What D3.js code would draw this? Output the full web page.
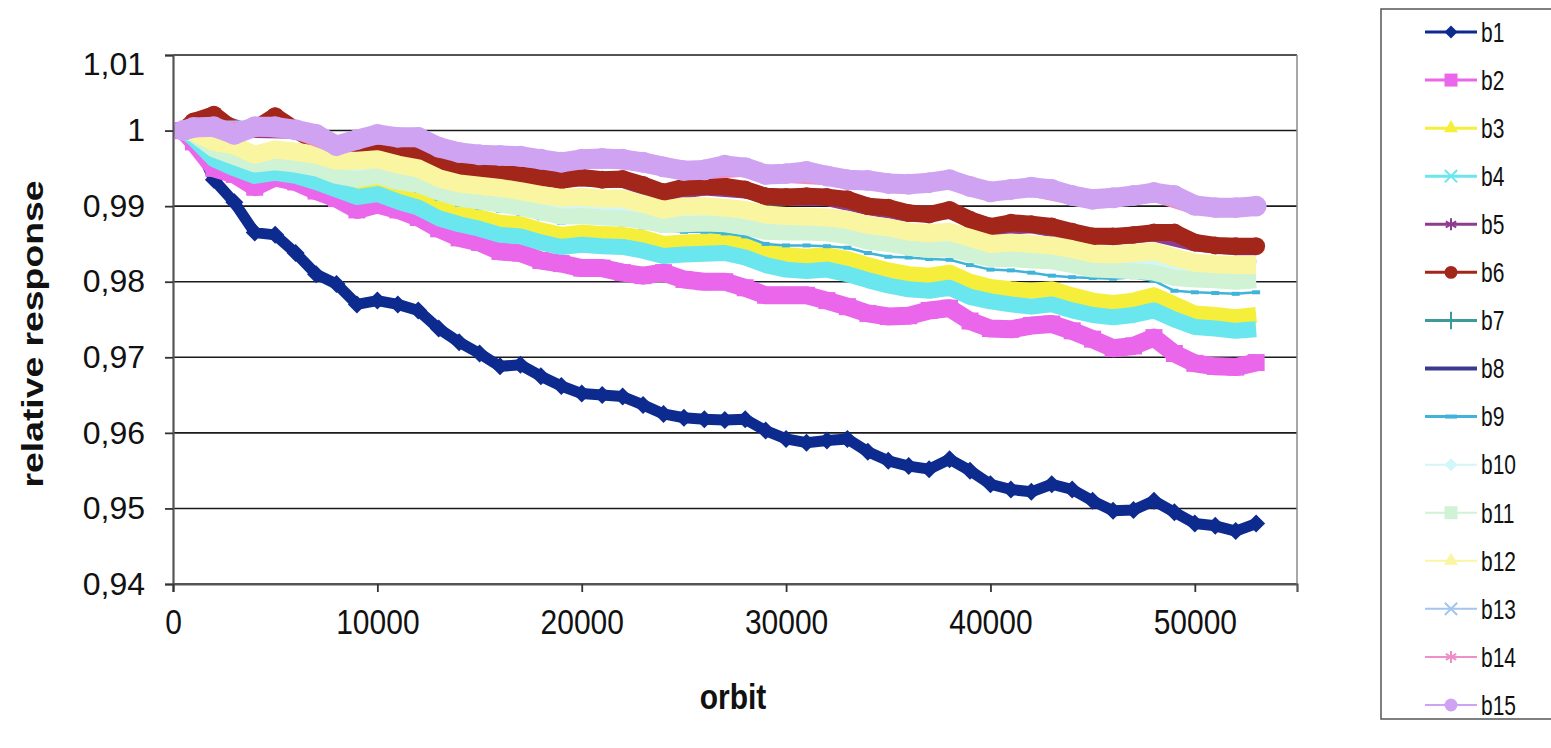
<!DOCTYPE html>
<html>
<head>
<meta charset="utf-8">
<script src="https://d3js.org/d3.v7.min.js"></script>
<style>
  body { margin: 0; background: #fff; }
  svg { display: block; }
  text { font-family: "Liberation Sans", Arial, sans-serif; fill: #111; }
</style>
</head>
<body>
<svg id="chart" width="1551" height="748"></svg>
<script>
// ---- data ----
// orbit numbers for the densely read series
const orbit = [500, 1000, 2000, 3000, 4000, 5000, 6000, 7000, 8000, 9000,
  10000, 11000, 12000, 13000, 14000, 15000, 16000, 17000, 18000, 19000,
  20000, 21000, 22000, 23000, 24000, 25000, 26000, 27000, 28000, 29000,
  30000, 31000, 32000, 33000, 34000, 35000, 36000, 37000, 38000, 39000,
  40000, 41000, 42000, 43000, 44000, 45000, 46000, 47000, 48000, 49000,
  50000, 51000, 52000, 53000];
// orbit numbers for the series that are mostly hidden under others
const orbitCoarse = [500, 2000, 4000, 6000, 8000, 10000, 12000, 14000, 16000, 18000,
  20000, 22000, 24000, 26000, 28000, 30000, 32000, 34000, 36000, 38000,
  40000, 42000, 44000, 46000, 48000, 50000, 52000, 53000];

const b1 = [1.0, 0.9995, 0.9935, 0.9905, 0.9865, 0.9862, 0.9838, 0.981, 0.9797, 0.977,
  0.9775, 0.977, 0.9762, 0.9738, 0.972, 0.9705, 0.9688, 0.969, 0.9675, 0.9662,
  0.9652, 0.965, 0.9648, 0.9637, 0.9625, 0.962, 0.9618, 0.9617, 0.9618, 0.9603,
  0.9592, 0.9587, 0.959, 0.9592, 0.9575, 0.9563, 0.9556, 0.9552, 0.9565, 0.955,
  0.9532, 0.9525, 0.9522, 0.9532, 0.9525, 0.951, 0.9497, 0.9498, 0.951, 0.9495,
  0.948, 0.9477, 0.947, 0.948];
const b2 = [1.0, 0.9985, 0.995, 0.9942, 0.9925, 0.9938, 0.9932, 0.992, 0.991, 0.9895,
  0.9902, 0.9895, 0.9885, 0.987, 0.9858, 0.9852, 0.984, 0.9838, 0.9828, 0.9824,
  0.9818, 0.9818, 0.9812, 0.9808, 0.9812, 0.9803, 0.98, 0.98, 0.9792, 0.9782,
  0.9782, 0.9782, 0.9775, 0.9767, 0.9758, 0.9754, 0.9755, 0.9762, 0.9765, 0.9748,
  0.9738, 0.9737, 0.9742, 0.9744, 0.9735, 0.9724, 0.9712, 0.9715, 0.9726, 0.9705,
  0.9692, 0.9688, 0.9687, 0.9693];
const b3 = [1.0, 0.9993, 0.997, 0.996, 0.995, 0.9952, 0.9948, 0.994, 0.9932, 0.9925,
  0.993, 0.9918, 0.9912, 0.9898, 0.989, 0.9885, 0.9878, 0.9876, 0.9868, 0.9862,
  0.9865, 0.9863, 0.9862, 0.9858, 0.985, 0.9852, 0.9853, 0.9855, 0.985, 0.984,
  0.9835, 0.9833, 0.9835, 0.983, 0.9822, 0.9815, 0.981, 0.9808, 0.9812, 0.98,
  0.9793, 0.979, 0.9788, 0.979, 0.9782, 0.9775, 0.9772, 0.9775, 0.9782, 0.977,
  0.9758, 0.9756, 0.9753, 0.9756];
const b4 = [1.0, 0.999, 0.9962, 0.995, 0.994, 0.9944, 0.994, 0.9932, 0.9922, 0.9912,
  0.9916, 0.9906, 0.9898, 0.9884, 0.9876, 0.987, 0.9862, 0.986, 0.9852, 0.9846,
  0.9849, 0.9847, 0.9846, 0.9841, 0.9834, 0.9836, 0.9837, 0.9838, 0.9832, 0.9822,
  0.9816, 0.9814, 0.9816, 0.981, 0.9802, 0.9795, 0.979, 0.9788, 0.9792, 0.978,
  0.9774, 0.977, 0.9767, 0.977, 0.9762, 0.9756, 0.9753, 0.9756, 0.9762, 0.975,
  0.974, 0.9738, 0.9735, 0.9737];
const b5 = [1.0, 1.0017, 0.9998, 0.9997, 0.9971, 0.9976, 0.9964, 0.9944, 0.9939, 0.9934,
  0.9934, 0.9932, 0.9914, 0.9922, 0.9918, 0.9908, 0.9908, 0.9896, 0.9887, 0.9891,
  0.9869, 0.9872, 0.9862, 0.9856, 0.9861, 0.9848, 0.9843, 0.9843];
const b6 = [1.0, 1.0012, 1.0021, 1.0, 1.0002, 1.0019, 1.0001, 0.9985, 0.9975, 0.9978,
  0.998, 0.9974, 0.9968, 0.9955, 0.9948, 0.9945, 0.9943, 0.9942, 0.9938, 0.9934,
  0.9938, 0.9935, 0.9936, 0.9928, 0.9918, 0.9925, 0.9926, 0.9926, 0.9922, 0.9913,
  0.9912, 0.9913, 0.9912, 0.9909, 0.99, 0.9898, 0.9891, 0.9889, 0.9895, 0.9882,
  0.9873, 0.9878, 0.9876, 0.9873, 0.9866, 0.986, 0.986, 0.9862, 0.9865, 0.9865,
  0.9852, 0.9848, 0.9847, 0.9847];
const b7 = [1.0, 0.9991, 0.9974, 0.9978, 0.9966, 0.9968, 0.9956, 0.9936, 0.993, 0.9921,
  0.9918, 0.9916, 0.9901, 0.9906, 0.9901, 0.9893, 0.9891, 0.9881, 0.9872, 0.9872,
  0.9856, 0.9856, 0.9849, 0.9842, 0.9846, 0.9831, 0.9828, 0.9828];
const b8 = [1.0, 0.9989, 0.9972, 0.9976, 0.9964, 0.9966, 0.9954, 0.9934, 0.9928, 0.9919,
  0.9916, 0.9914, 0.9899, 0.9904, 0.9899, 0.9891, 0.9889, 0.9879, 0.987, 0.987,
  0.9854, 0.9854, 0.9847, 0.984, 0.9844, 0.9829, 0.9826, 0.9826];
const b9 = [1.0, 0.9993, 0.997, 0.996, 0.995, 0.9952, 0.995, 0.9944, 0.9934, 0.9928,
  0.9932, 0.9925, 0.992, 0.991, 0.9902, 0.9898, 0.9894, 0.989, 0.9884, 0.9878,
  0.988, 0.9878, 0.9876, 0.9872, 0.9868, 0.9866, 0.9866, 0.9864, 0.986, 0.985,
  0.9848, 0.9848, 0.9847, 0.9845, 0.9838, 0.9833, 0.9832, 0.983, 0.9829, 0.9822,
  0.9816, 0.9815, 0.9812, 0.9808, 0.9806, 0.9805, 0.9804, 0.9806, 0.9801, 0.9788,
  0.9786, 0.9785, 0.9784, 0.9786];
const b10 = [1.0, 0.998, 0.9962, 0.9964, 0.995, 0.9951, 0.9939, 0.992, 0.9913, 0.9904,
  0.99, 0.9897, 0.9885, 0.9889, 0.9884, 0.9876, 0.9875, 0.9864, 0.9856, 0.9855,
  0.984, 0.9839, 0.9833, 0.9826, 0.9826, 0.9814, 0.9811, 0.9812];
const b11 = [1.0, 0.9995, 0.9975, 0.9965, 0.9955, 0.9958, 0.9955, 0.995, 0.994, 0.9935,
  0.994, 0.9932, 0.9928, 0.9918, 0.991, 0.9906, 0.9902, 0.9898, 0.9892, 0.9886,
  0.9887, 0.9885, 0.9884, 0.988, 0.9875, 0.9876, 0.9877, 0.9876, 0.9872, 0.9866,
  0.9865, 0.9865, 0.9864, 0.986, 0.9853, 0.985, 0.9845, 0.9842, 0.9843, 0.9836,
  0.983, 0.983, 0.9828, 0.9827, 0.9822, 0.9816, 0.9815, 0.9814, 0.9812, 0.9805,
  0.9803, 0.9802, 0.98, 0.9802];
const b12 = [1.0, 0.9998, 0.9985, 0.998, 0.9968, 0.9975, 0.9972, 0.9968, 0.996, 0.996,
  0.9962, 0.9955, 0.995, 0.9937, 0.993, 0.9927, 0.9924, 0.992, 0.9915, 0.9911,
  0.9912, 0.991, 0.991, 0.9903, 0.9895, 0.99, 0.99, 0.9898, 0.9895, 0.9889,
  0.9887, 0.9886, 0.9885, 0.9882, 0.9875, 0.9872, 0.9866, 0.9864, 0.9866, 0.9858,
  0.985, 0.9852, 0.985, 0.9848, 0.9843, 0.9837, 0.9836, 0.9838, 0.984, 0.9832,
  0.9825, 0.9823, 0.9822, 0.9822];
const b13 = [1.0, 1.0004, 1.0004, 1.0, 0.9979, 0.9994, 0.999, 0.997, 0.9966, 0.9961,
  0.9961, 0.9961, 0.9951, 0.9947, 0.995, 0.9942, 0.9939, 0.9933, 0.9928, 0.9934,
  0.9918, 0.9924, 0.9913, 0.991, 0.9917, 0.99, 0.9897, 0.9899];
const b14 = [1.0, 1.0003, 1.0002, 0.9998, 0.9978, 0.9992, 0.9988, 0.9968, 0.9964, 0.9959,
  0.9959, 0.9959, 0.9949, 0.9945, 0.9948, 0.994, 0.9937, 0.9931, 0.9926, 0.9932,
  0.9916, 0.9922, 0.9911, 0.9908, 0.9915, 0.9898, 0.9895, 0.9897];
const b15 = [1.0, 1.0004, 1.0005, 0.9995, 1.0005, 1.0005, 1.0001, 0.9995, 0.998, 0.9988,
  0.9995, 0.9991, 0.9991, 0.9978, 0.9971, 0.9968, 0.9967, 0.9966, 0.9962, 0.9958,
  0.9962, 0.9963, 0.9962, 0.9958, 0.9952, 0.9947, 0.9948, 0.9954, 0.9951, 0.9942,
  0.9943, 0.9946, 0.994, 0.9935, 0.9934, 0.993, 0.9929, 0.9931, 0.9935, 0.9926,
  0.9919, 0.9922, 0.9925, 0.9922, 0.9914, 0.9909, 0.9911, 0.9914, 0.9918, 0.9914,
  0.9901, 0.9898, 0.9898, 0.99];

const seriesNames = ['b1', 'b2', 'b3', 'b4', 'b5', 'b6', 'b7', 'b8', 'b9', 'b10',
  'b11', 'b12', 'b13', 'b14', 'b15'];
const seriesValues = [b1, b2, b3, b4, b5, b6, b7, b8, b9, b10, b11, b12, b13, b14, b15];
const yTicks = [0.94, 0.95, 0.96, 0.97, 0.98, 0.99, 1.0, 1.01];
const xTicks = [0, 10000, 20000, 30000, 40000, 50000];

// ---- look of each series (Excel 2003 style) ----
// band = width of the dense marker band in the plot, msize = marker drawn at each point
const look = {
  b1:  { color: '#0d2a8e', marker: 'diamond',  band: 11, msize: 18, line: 3 },
  b2:  { color: '#ea66ea', marker: 'square',   band: 18, msize: 17, line: 3 },
  b3:  { color: '#f5ef3c', marker: 'triangle', band: 16, msize: 0,  line: 3 },
  b4:  { color: '#6ae6ee', marker: 'times',    band: 16, msize: 0,  line: 3 },
  b5:  { color: '#8e3d8e', marker: 'asterisk', band: 12, msize: 0,  line: 3 },
  b6:  { color: '#a3261a', marker: 'circle',   band: 17, msize: 18, line: 3 },
  b7:  { color: '#3d9a9a', marker: 'plus',     band: 2.5, msize: 0, line: 3 },
  b8:  { color: '#3a3a8f', marker: 'dash',     band: 2.5, msize: 0, line: 4 },
  b9:  { color: '#3fb4d8', marker: 'longdash', band: 2.5, msize: 8, line: 3 },
  b10: { color: '#d3f6f8', marker: 'diamond',  band: 12, msize: 0,  line: 2 },
  b11: { color: '#cff3d4', marker: 'square',   band: 16, msize: 0,  line: 2 },
  b12: { color: '#f9f5a0', marker: 'triangle', band: 18, msize: 0,  line: 2 },
  b13: { color: '#a3c6ee', marker: 'times',    band: 14, msize: 0,  line: 2 },
  b14: { color: '#ee90c8', marker: 'asterisk', band: 14, msize: 0,  line: 2 },
  b15: { color: '#cfa3f2', marker: 'circle',   band: 20, msize: 21, line: 2 }
};
const coarse = ['b5', 'b7', 'b8', 'b10', 'b13', 'b14'];

const W = 1551, H = 748;
const svg = d3.select('#chart');
svg.append('rect').attr('width', W).attr('height', H).attr('fill', '#fff');

const x = d3.scaleLinear().domain([0, 55000]).range([173, 1297]);
const y = d3.scaleLinear().domain([0.94, 1.01]).range([584, 55]);

// gridlines
svg.append('g').selectAll('line')
  .data(yTicks)
  .enter().append('line')
  .attr('x1', x(0)).attr('x2', x(55000))
  .attr('y1', d => y(d)).attr('y2', d => y(d))
  .attr('stroke', '#1a1a1a').attr('stroke-width', 1.6);
// plot area right border
svg.append('line')
  .attr('x1', x(55000)).attr('x2', x(55000))
  .attr('y1', y(1.01)).attr('y2', y(0.94))
  .attr('stroke', '#8a8a8a').attr('stroke-width', 1.5);

// marker path generator
function markerPath(type, s) {
  const sym = d3.symbol();
  switch (type) {
    case 'diamond':  return sym.type(d3.symbolSquare).size(s * s / 2)();
    case 'square':   return sym.type(d3.symbolSquare).size(s * s)();
    case 'triangle': return sym.type(d3.symbolTriangle).size(s * s * 0.5)();
    case 'times':    return sym.type(d3.symbolTimes).size(s * s * 0.6)();
    case 'asterisk': return sym.type(d3.symbolAsterisk).size(s * s * 0.6)();
    case 'circle':   return sym.type(d3.symbolCircle).size(s * s * 0.78)();
    case 'plus':     return sym.type(d3.symbolPlus).size(s * s * 0.6)();
    case 'dash':     return 'M' + (-s / 2) + ',-1.5h' + s + 'v3h' + (-s) + 'Z';
    case 'longdash': return 'M' + (-s / 2) + ',-2h' + s + 'v4h' + (-s) + 'Z';
  }
}
const strokeMarkers = ['times', 'asterisk', 'plus'];

// series, drawn in order so b15 ends on top
const plot = svg.append('g');
seriesNames.forEach((name, i) => {
  const st = look[name];
  const xs = coarse.includes(name) ? orbitCoarse : orbit;
  const pts = seriesValues[i].map((v, j) => [xs[j], v]);
  const line = d3.line().x(d => x(d[0])).y(d => y(d[1]));
  plot.append('path')
    .attr('d', line(pts))
    .attr('fill', 'none')
    .attr('stroke', st.color)
    .attr('stroke-width', st.band)
    .attr('stroke-linejoin', 'round')
    .attr('stroke-linecap', 'butt');
  if (st.msize > 0) {
    plot.append('g').selectAll('path')
      .data(pts)
      .enter().append('path')
      .attr('d', markerPath(st.marker, st.msize))
      .attr('transform', d => `translate(${x(d[0])},${y(d[1])})` + (st.marker === 'diamond' ? ' rotate(45)' : ''))
      .attr('fill', st.color);
  }
});

// axes
const yAxis = svg.append('g')
  .attr('transform', `translate(${x(0)},0)`)
  .call(d3.axisLeft(y).tickValues(yTicks).tickSize(8).tickPadding(20)
    .tickFormat(d => d === 1 ? '1' : d.toFixed(2).replace('.', ',')));
const xAxis = svg.append('g')
  .attr('transform', `translate(0,${y(0.94)})`)
  .call(d3.axisBottom(x).tickValues(xTicks).tickSize(8).tickPadding(14)
    .tickFormat(d3.format('d')));
[yAxis, xAxis].forEach(a => {
  a.select('.domain').attr('stroke', '#555').attr('stroke-width', 2.2);
  a.selectAll('.tick line').attr('stroke', '#333').attr('stroke-width', 1.8);
  a.selectAll('.tick text')
    .attr('fill', '#111')
    .style('font-family', '"Liberation Sans", Arial, sans-serif');
});
yAxis.selectAll('.tick text').style('font-size', '32px');
xAxis.selectAll('.tick text').style('font-size', '30px')
  .attr('transform', 'scale(1,1.15)');
yAxis.select('.tick:last-of-type text').attr('dy', '0.6em');

// axis titles
svg.append('text')
  .attr('transform', 'translate(43,334) rotate(-90)')
  .attr('text-anchor', 'middle')
  .attr('textLength', 307)
  .attr('lengthAdjust', 'spacingAndGlyphs')
  .style('font-size', '30px').style('font-weight', 'bold')
  .text('relative response');
svg.append('text')
  .attr('transform', 'translate(733,709) scale(1,1.15)')
  .attr('text-anchor', 'middle')
  .style('font-size', '30px').style('font-weight', 'bold')
  .text('orbit');

// legend
const legend = svg.append('g');
legend.append('rect')
  .attr('x', 1381).attr('y', 9).attr('width', 200).attr('height', 710)
  .attr('fill', '#fff').attr('stroke', '#555').attr('stroke-width', 1.5);
const ly = d3.scalePoint().domain(seriesNames).range([32, 705]);
seriesNames.forEach(name => {
  const st = look[name];
  const cy = ly(name);
  const item = legend.append('g');
  item.append('line')
    .attr('x1', 1425).attr('x2', 1477).attr('y1', cy).attr('y2', cy)
    .attr('stroke', st.color).attr('stroke-width', st.line);
  const stroked = strokeMarkers.includes(st.marker);
  item.append('path')
    .attr('d', markerPath(st.marker, st.marker === 'longdash' ? 12 : 13))
    .attr('transform', `translate(1451,${cy})` + (st.marker === 'diamond' ? ' rotate(45)' : ''))
    .attr('fill', stroked ? 'none' : st.color)
    .attr('stroke', stroked ? st.color : 'none')
    .attr('stroke-width', 2);
  item.append('text')
    .attr('transform', `translate(1481,${cy}) scale(1,1.3)`)
    .attr('dy', '0.36em')
    .style('font-size', '21px')
    .text(name);
});
</script>
</body>
</html>
